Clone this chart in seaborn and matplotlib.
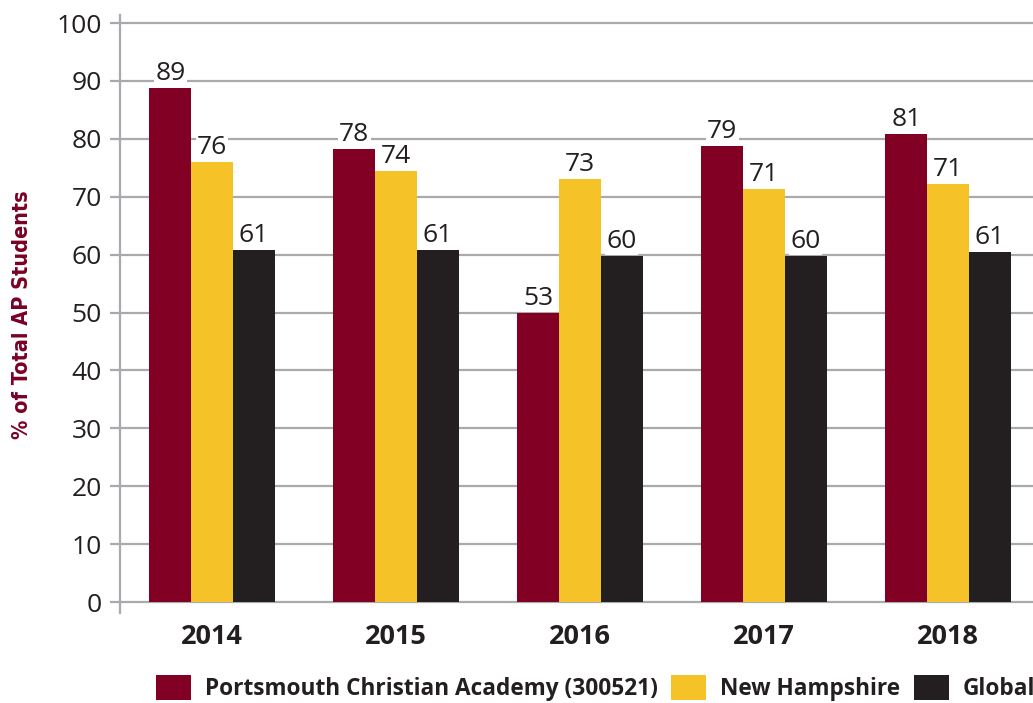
import numpy as np
import pandas as pd
import matplotlib
matplotlib.use('Agg')
import matplotlib.pyplot as plt
import seaborn as sns
from matplotlib.patches import Patch

years = ['2014', '2015', '2016', '2017', '2018']
series_names = ['Portsmouth Christian Academy (300521)', 'New Hampshire', 'Global']

# bar heights as drawn in the picture
pca_height = [88.8, 78.3, 49.9, 78.7, 80.8]
nh_height = [76.0, 74.4, 73.1, 71.3, 72.2]
global_height = [60.8, 60.8, 59.8, 59.8, 60.5]

# value labels printed above the bars
pca_label = [89, 78, 53, 79, 81]
nh_label = [76, 74, 73, 71, 71]
global_label = [61, 61, 60, 60, 61]

colors = ['#820024', '#f5c228', '#231f20']
grid_grey = '#a9aaad'
text_dark = '#231f20'

df = pd.DataFrame({
    'year': years * 3,
    'pct': pca_height + nh_height + global_height,
    'series': [series_names[0]] * 5 + [series_names[1]] * 5 + [series_names[2]] * 5,
})

sns.set_style('white')
plt.rcParams['font.family'] = ['Open Sans', 'DejaVu Sans']

fig = plt.figure(figsize=(10.33, 7.03), dpi=100)
ax = fig.add_axes([120 / 1033, 90 / 703, 920 / 1033, 598 / 703])

sns.barplot(data=df, x='year', y='pct', hue='series', hue_order=series_names,
            palette=colors, saturation=1, width=0.68, legend=False, ax=ax,
            errorbar=None, linewidth=0)

ax.set_xlim(-0.5, 4.5)
ax.set_ylim(-1.9, 101.4)
ax.set_yticks(np.arange(0, 101, 10))
ax.set_axisbelow(True)
ax.grid(axis='y', color=grid_grey, linewidth=1.6)
ax.grid(axis='x', visible=False)
for s in ['top', 'right', 'bottom']:
    ax.spines[s].set_visible(False)
ax.spines['left'].set_color(grid_grey)
ax.spines['left'].set_linewidth(1.6)
ax.tick_params(axis='y', length=7, width=1.6, color=grid_grey, pad=6,
               labelsize=19, labelcolor=text_dark, left=True)
ax.tick_params(axis='x', length=0, pad=8, labelsize=19.5, labelcolor=text_dark)
for lab in ax.get_xticklabels():
    lab.set_fontweight('bold')
ax.set_xlabel('')
ax.set_ylabel('')

all_labels = [pca_label, nh_label, global_label]
for cont, labs in zip(ax.containers, all_labels):
    ax.bar_label(cont, labels=[str(v) for v in labs], padding=1.5, fontsize=19,
                 color=text_dark,
                 bbox=dict(facecolor='white', edgecolor='none', pad=1.0))

fig.text(22 / 1033, (703 - 315) / 703, '% of Total AP Students', rotation=90,
         ha='center', va='center', fontsize=15.5, fontweight='bold', color='#7a0026',
         family='DejaVu Sans', fontstretch='condensed')

handles = [Patch(facecolor=c, edgecolor='none') for c in colors]
fig.legend(handles, series_names, loc='center left',
           bbox_to_anchor=(156 / 1033, 15 / 703), ncol=3, frameon=False,
           prop={'weight': 'bold', 'size': 16.3}, handlelength=1.55,
           handleheight=1.33, handletextpad=0.6, columnspacing=0.6,
           labelcolor=text_dark, borderpad=0, borderaxespad=0)

fig.savefig('out.png', dpi=100)
